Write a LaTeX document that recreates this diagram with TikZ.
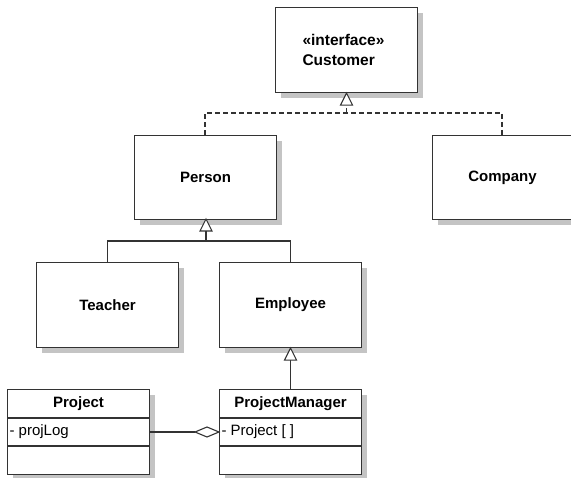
\documentclass[tikz,border=0pt]{standalone}
\usepackage{fontspec}
\setmainfont{Liberation Sans}
\usetikzlibrary{shadows}
\definecolor{edge}{HTML}{333333}
\definecolor{shade}{HTML}{C4C4C4}
\begin{document}
\begin{tikzpicture}[x=1pt,y=-1pt,
  line width=1.1pt,
  classbox/.style={draw=edge, fill=white, inner sep=0pt, anchor=north west,
    minimum width=142pt, minimum height=85pt,
    drop shadow={shadow xshift=5pt, shadow yshift=-5pt, fill=shade, opacity=1}},
  lbl/.style={font=\fontsize{15}{17}\selectfont\bfseries, inner sep=0pt},
  attr/.style={font=\fontsize{15}{17}\selectfont, inner sep=0pt, anchor=west},
  conn/.style={draw=edge},
  realize/.style={conn, dash pattern=on 5pt off 3pt},
  tri/.style={draw=edge, fill=white, line join=miter}]
\useasboundingbox (0,0) rectangle (571,478);
\clip (0,0) rectangle (571,478);

% interface
\node[classbox] (customer) at (275,7) {};
\node[font=\fontsize{15.5}{17}\selectfont\bfseries, anchor=north west, inner sep=0pt, align=left]
  (custtext) at (302,34) {«interface»\\[3pt]Customer};

% plain classes
\node[classbox, minimum height=84pt] (person) at (134,135) {};
\node[lbl] at (person.center) {Person};
\node[classbox, minimum width=190pt, minimum height=84pt] (company) at (432,135) {};
\node[lbl] at ([xshift=-25pt]company.center) {Company};
\node[classbox] (teacher) at (36,262) {};
\node[lbl] at (teacher.center) {Teacher};
\node[classbox] (employee) at (219,262) {};
\node[lbl] at (employee.center) {Employee};

% classes with attribute and operation compartments
\node[classbox] (project) at (7,389) {};
\draw[conn] ([yshift=-29pt]project.north west) -- ([yshift=-29pt]project.north east)
            ([yshift=-57pt]project.north west) -- ([yshift=-57pt]project.north east);
\node[lbl] at ([yshift=-15pt]project.north) {Project};
\node[attr] (projlog) at (9,432) {- projLog};

\node[classbox] (pm) at (219,389) {};
\draw[conn] ([yshift=-29pt]pm.north west) -- ([yshift=-29pt]pm.north east)
            ([yshift=-57pt]pm.north west) -- ([yshift=-57pt]pm.north east);
\node[lbl] at ([yshift=-15pt]pm.north) {ProjectManager};
\node[attr] (pmattr) at (221,432) {- Project [ ]};

% realization: Person, Company -> Customer
\coordinate (custB) at (customer.south);
\coordinate (custT) at ([yshift=-12pt]custB);
\coordinate (custJ) at (custB |- 0,113);
\coordinate (personT) at (205,135);
\coordinate (companyT) at (502,135);
\draw[realize] (personT) -- (personT |- custJ) -- (companyT |- custJ) -- (companyT);
\draw[realize] (custJ) -- (custT);
\draw[tri] (custB) -- ([xshift=-6pt]custT) -- ([xshift=6pt]custT) -- cycle;

% generalization: Teacher, Employee -> Person
\coordinate (personB) at (206,219);
\coordinate (personTri) at (206,231);
\coordinate (genJ) at (206,241);
\draw[conn] (teacher.north) -- (teacher.north |- genJ) -- (employee.north |- genJ) -- (employee.north);
\draw[conn] (genJ) -- (personTri);
\draw[tri] (personB) -- ([xshift=-6pt]personTri) -- ([xshift=6pt]personTri) -- cycle;

% generalization: ProjectManager -> Employee
\coordinate (empTri) at ([yshift=-12pt]employee.south);
\draw[conn] (pm.north) -- (empTri);
\draw[tri] (employee.south) -- ([xshift=-6pt]empTri) -- ([xshift=6pt]empTri) -- cycle;

% aggregation: ProjectManager <>-- Project
\coordinate (projR) at (project.east |- 0,432);
\coordinate (pmL) at (pm.west |- 0,432);
\coordinate (dmdTail) at ([xshift=-24pt]pmL);
\draw[conn] (projR) -- (dmdTail);
\draw[tri] (pmL) -- ([xshift=-12pt,yshift=-5pt]pmL) -- (dmdTail) -- ([xshift=-12pt,yshift=5pt]pmL) -- cycle;
\end{tikzpicture}
\end{document}
